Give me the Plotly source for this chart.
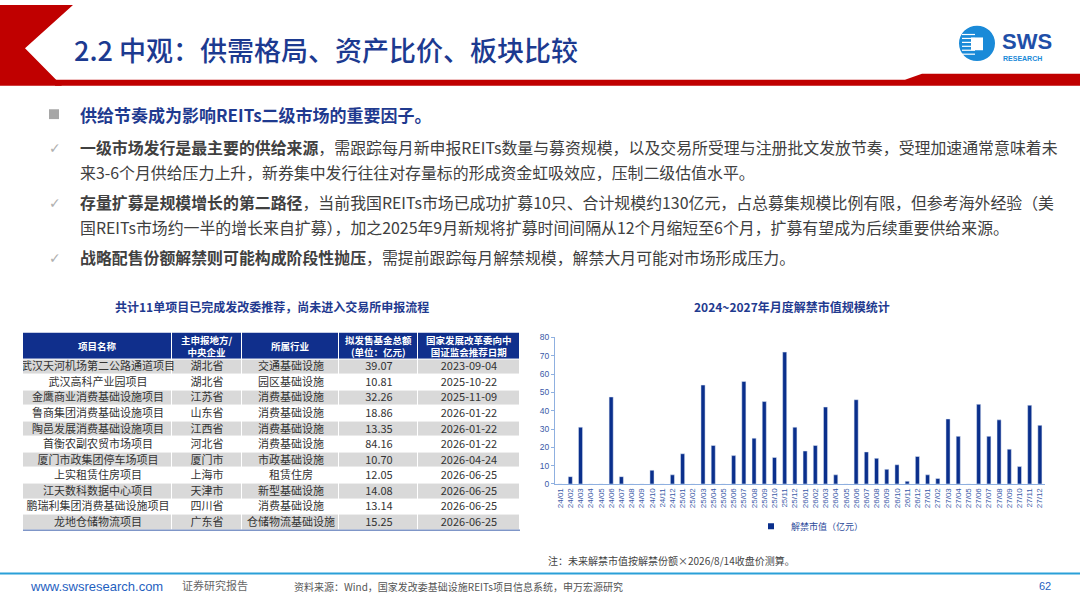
import plotly.graph_objects as go

W, H = 1080, 608

# ---- data ----
months = [f"{y}/{m:02d}" for y in (24, 25, 26, 27) for m in range(1, 13)]
unlock_value = [
    0, 4, 31, 0, 0, 47.5, 4, 0, 0, 7.5, 0, 5,
    16.5, 0, 54, 21, 0, 15.5, 56, 25, 45, 14.5, 72, 31,
    18, 21, 42, 5, 0, 46, 17.5, 14, 8, 10.5, 1.5, 15,
    5, 3, 35.5, 26, 0, 43.5, 26, 35, 19, 9.5, 43, 32,
]

table_header = ["项目名称", "主申报地方/<br>中央企业", "所属行业",
                "拟发售基金总额<br>(单位：亿元)", "国家发展改革委向中<br>国证监会推荐日期"]
project_names = ["武汉天河机场第二公路通道项目", "武汉高科产业园项目", "金鹰商业消费基础设施项目",
                 "鲁商集团消费基础设施项目", "陶邑发展消费基础设施项目", "首衡农副农贸市场项目",
                 "厦门市政集团停车场项目", "上实租赁住房项目", "江天数科数据中心项目",
                 "鹏瑞利集团消费基础设施项目", "龙地仓储物流项目"]
sponsors = ["湖北省", "湖北省", "江苏省", "山东省", "江西省", "河北省",
            "厦门市", "上海市", "天津市", "四川省", "广东省"]
industries = ["交通基础设施", "园区基础设施", "消费基础设施", "消费基础设施", "消费基础设施",
              "消费基础设施", "市政基础设施", "租赁住房", "新型基础设施", "消费基础设施",
              "仓储物流基础设施"]
fund_size = ["39.07", "10.81", "32.26", "18.86", "13.35", "84.16",
             "10.70", "12.05", "14.08", "13.14", "15.25"]
rec_dates = ["2023-09-04", "2025-10-22", "2025-11-09", "2026-01-22", "2026-01-22",
             "2026-01-22", "2026-04-24", "2026-06-25", "2026-06-25", "2026-06-25",
             "2026-06-25"]

title = "2.2 中观：供需格局、资产比价、板块比较"
headline = "供给节奏成为影响REITs二级市场的重要因子。"
bullets = [
    ["<b>一级市场发行是最主要的供给来源</b>，需跟踪每月新申报REITs数量与募资规模，以及交易所受理与注册批文发放节奏，受理加速通常意味着未",
     "来3-6个月供给压力上升，新券集中发行往往对存量标的形成资金虹吸效应，压制二级估值水平。"],
    ["<b>存量扩募是规模增长的第二路径</b>，当前我国REITs市场已成功扩募10只、合计规模约130亿元，占总募集规模比例有限，但参考海外经验（美",
     "国REITs市场约一半的增长来自扩募），加之2025年9月新规将扩募时间间隔从12个月缩短至6个月，扩募有望成为后续重要供给来源。"],
    ["<b>战略配售份额解禁则可能构成阶段性抛压</b>，需提前跟踪每月解禁规模，解禁大月可能对市场形成压力。"],
]

CJK = "Noto Sans CJK SC"
NAVY = "#1f3a8f"
BAR = "#0a2f8c"

# table geometry (pixels of the slide)
col_edges = [23, 172, 242, 339, 418, 520]
header_h = 27
row_h = 15.82
tab_top = 333


def px(x):
    return x / W


def py(y):
    return 1 - y / H


def path(points):
    return "M " + " L ".join(f"{px(x):.5f},{py(y):.5f}" for x, y in points) + " Z"


fig = go.Figure()

# table body as a heatmap of bricks
n = len(project_names)
row_edges = [tab_top, tab_top + header_h] + [tab_top + header_h + row_h * (i + 1) for i in range(n)]
columns = [project_names, sponsors, industries, fund_size, rec_dates]
z = [[2] * 5] + [[1 if i % 2 == 0 else 0] * 5 for i in range(n)]
cell_text = [[""] * 5] + [[col[i] for col in columns] for i in range(n)]
fig.add_trace(go.Heatmap(
    x=col_edges, y=row_edges, z=z, text=cell_text, texttemplate="%{text}",
    textfont=dict(family=CJK, size=11, color="#333333"),
    colorscale=[[0, "white"], [0.5, "#d9d9d9"], [1, "#102f8c"]], zmin=0, zmax=2,
    showscale=False, xgap=1, ygap=1, hoverinfo="skip",
    xaxis="x2", yaxis="y2",
))

# bar chart
fig.add_trace(go.Bar(x=months, y=unlock_value, marker_color=BAR, name="解禁市值（亿元）",
                     showlegend=False))
fig.add_trace(go.Scatter(x=[None], y=[None], mode="markers", name="解禁市值（亿元）",
                         marker=dict(symbol="square", size=6, color=BAR), showlegend=True))

fig.update_layout(
    width=W, height=H, margin=dict(l=0, r=0, t=0, b=0),
    paper_bgcolor="white", plot_bgcolor="white",
    bargap=0.6,
    xaxis=dict(domain=[px(555), px(1045)], anchor="y", type="category",
               tickangle=-90, tickfont=dict(family="Arial", size=8, color="#3a5aa8"),
               showline=True, linecolor="#8fb0e0", ticks="", showgrid=False),
    yaxis=dict(domain=[py(487), py(338)], anchor="x", range=[0, 80], dtick=10,
               tickfont=dict(family="Arial", size=8.5, color="#3a5aa8"),
               showline=True, linecolor="#8fb0e0", ticks="outside", ticklen=3,
               tickcolor="#8fb0e0", showgrid=False, zeroline=False),
    xaxis2=dict(domain=[px(col_edges[0]), px(col_edges[-1])], anchor="y2",
                range=[col_edges[0], col_edges[-1]], visible=False, fixedrange=True),
    yaxis2=dict(domain=[py(row_edges[-1]), py(row_edges[0])], anchor="x2",
                range=[row_edges[-1], row_edges[0]], visible=False, fixedrange=True),
    legend=dict(x=px(751), y=py(530), xanchor="left", yanchor="middle",
                font=dict(family=CJK, size=9, color="#2b4a9a"), bgcolor="rgba(0,0,0,0)",
                itemwidth=30, tracegroupgap=0),
)

shapes = []
# header chevron and red rule
shapes.append(dict(type="path", path=path([(0, 0), (73, 0), (25, 44), (62, 82), (0, 82)]),
                   xref="paper", yref="paper", fillcolor="#c00000", line_width=0, layer="below"))
shapes.append(dict(type="path", path=path([(55, 76), (905, 76), (922, 70), (1080, 70), (1080, 82), (55, 82)]),
                   xref="paper", yref="paper", fillcolor="#c00000", line_width=0, layer="below"))
# logo
shapes.append(dict(type="circle", xref="paper", yref="paper",
                   x0=px(959), x1=px(995), y0=py(57), y1=py(21),
                   fillcolor="#1a8ad8", line_width=0))
for yy in (30, 34, 38, 42, 46, 50):
    shapes.append(dict(type="line", xref="paper", yref="paper",
                       x0=px(962), x1=px(975), y0=py(yy), y1=py(yy),
                       line=dict(color="white", width=1.2)))
shapes.append(dict(type="rect", xref="paper", yref="paper",
                   x0=px(971), x1=px(983), y0=py(46), y1=py(33),
                   fillcolor="white", line_width=0))
# bullet square
shapes.append(dict(type="rect", xref="paper", yref="paper",
                   x0=px(49), x1=px(59), y0=py(116), y1=py(106),
                   fillcolor="#a6a6a6", line_width=0))
# footer rule
shapes.append(dict(type="line", xref="paper", yref="paper",
                   x0=0, x1=1, y0=py(578), y1=py(578),
                   line=dict(color="#2aa0d8", width=2)))
# table bottom rule
shapes.append(dict(type="line", xref="paper", yref="paper",
                   x0=px(23), x1=px(520), y0=py(row_edges[-1]), y1=py(row_edges[-1]),
                   line=dict(color="#7f96c8", width=1.5)))
fig.update_layout(shapes=shapes)

ann = []


def text(x, y, s, size, color, family=CJK, xanchor="left", xref="paper", yref="paper", weight=None):
    font = dict(family=family, size=size, color=color)
    if weight:
        font["weight"] = weight
    ann.append(dict(x=px(x) if xref == "paper" else x, y=py(y) if yref == "paper" else y,
                    xref=xref, yref=yref, text=s, showarrow=False,
                    xanchor=xanchor, yanchor="middle", font=font))


# table header labels placed on the table's own axes
for i, h in enumerate(table_header):
    cx = (col_edges[i] + col_edges[i + 1]) / 2
    text(cx, (row_edges[0] + row_edges[1]) / 2, f"<b>{h}</b>", 9.5, "white",
         xanchor="center", xref="x2", yref="y2")

text(72, 45, title, 27, "#1c3a90", weight=500)
text(1000, 37, "<b>SWS</b>", 22, "#1f4fa8", family="Arial")
text(1001, 54, "<b>RESEARCH</b>", 7, "#1a8ad8", family="Arial")
text(78, 111, "<b>" + headline + "</b>", 17, NAVY)

line_y = [[145, 170], [201, 226], [257]]
for lines, ys in zip(bullets, line_y):
    text(47, ys[0], "✓", 14, "#b0b0b0", family="DejaVu Sans")
    for s, yy in zip(lines, ys):
        text(78, yy, s, 15.9, "#404040")

text(272, 307, "<b>共计11单项目已完成发改委推荐，尚未进入交易所申报流程</b>", 12, NAVY, xanchor="center")
text(792, 307, "<b>2024~2027年月度解禁市值规模统计</b>", 12, NAVY, xanchor="center")
text(546, 565, "注：未来解禁市值按解禁份额×2026/8/14收盘价测算。", 10, "#444444")

text(28, 591, "www.swsresearch.com", 13, "#1f5fbf", family="Arial")
text(180, 590, "证券研究报告", 11, "#666666")
text(292, 591, "资料来源：Wind，国家发改委基础设施REITs项目信息系统，申万宏源研究", 10, "#555555")
text(1045, 591, "62", 11, "#1f5fbf", family="Arial", xanchor="center")

fig.update_layout(annotations=ann)

fig.write_html("out.html", config={"displayModeBar": False},
               post_script="document.body.style.margin='0';document.body.style.overflow='hidden';")
